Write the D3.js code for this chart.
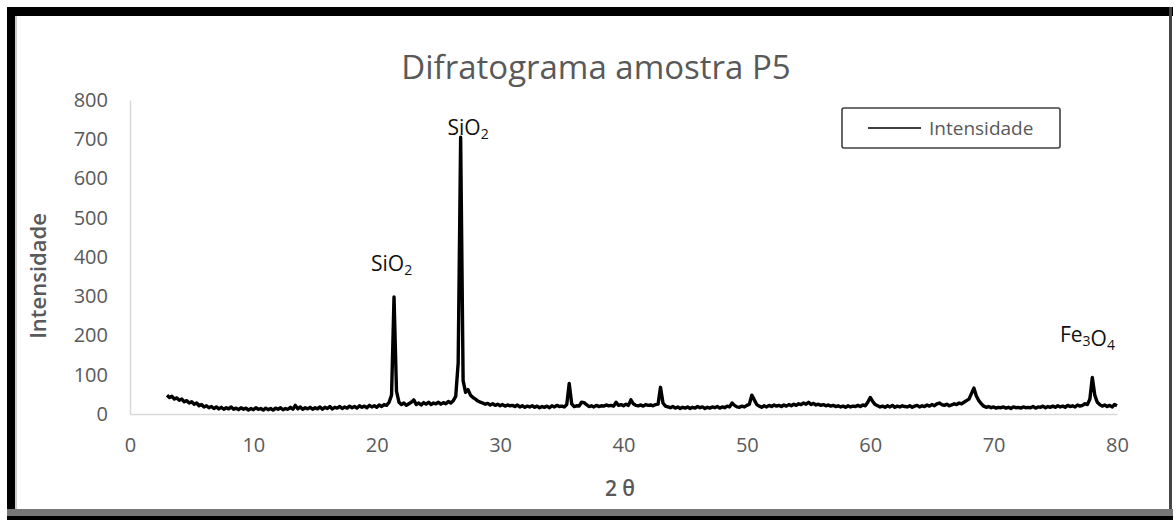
<!DOCTYPE html>
<html>
<head>
<meta charset="utf-8">
<script src="https://cdn.jsdelivr.net/npm/d3@7"></script>
<style>
  html, body { margin: 0; padding: 0; background: #fff; }
  svg { display: block; font-family: "Open Sans", Lato, sans-serif; }
</style>
</head>
<body>
<svg id="chart" width="1176" height="520"></svg>
<script>
// 2θ grid of the scan (start, step) and the intensity read at each step
const thetaStart = 3;
const thetaStep = 0.2;
const intensity = [
  48, 42, 45, 38, 41, 35, 38, 31, 34, 28,
  31, 25, 28, 21, 24, 18, 21, 16, 19, 14,
  18, 13, 17, 12, 16, 13, 18, 12, 15, 11,
  16, 12, 15, 10, 14, 11, 16, 12, 14, 10,
  15, 11, 14, 10, 15, 12, 16, 11, 14, 12,
  17, 12, 22, 13, 18, 12, 16, 13, 17, 12,
  16, 13, 18, 12, 17, 14, 19, 13, 17, 15,
  19, 14, 18, 15, 20, 16, 19, 15, 21, 17,
  20, 16, 22, 18, 21, 17, 23, 19, 24, 22,
  30, 48, 298, 58, 30, 24, 28, 22, 26, 30,
  36, 24, 28, 23, 29, 25, 30, 24, 28, 26,
  30, 25, 29, 26, 32, 28, 34, 45, 130, 705,
  85, 55, 62, 48, 42, 38, 33, 30, 28, 25,
  27, 23, 26, 22, 25, 21, 24, 20, 23, 21,
  22, 19, 23, 18, 21, 17, 20, 18, 21, 17,
  20, 16, 19, 17, 20, 16, 21, 18, 22, 19,
  20, 18, 24, 78, 26, 19, 21, 20, 30, 29,
  24, 19, 21, 18, 22, 19, 21, 20, 23, 21,
  22, 20, 30, 22, 24, 21, 25, 22, 36, 26,
  22, 21, 23, 20, 24, 22, 23, 21, 24, 25,
  68, 28, 20, 18, 16, 19, 15, 18, 14, 17,
  15, 18, 14, 17, 15, 19, 16, 18, 14, 17,
  15, 18, 16, 19, 15, 18, 16, 20, 18, 28,
  22, 18, 17, 20, 18, 22, 25, 48, 36, 24,
  20, 17, 21, 18, 22, 19, 23, 20, 22, 19,
  23, 20, 24, 21, 25, 22, 26, 24, 28, 25,
  30, 24, 27, 23, 25, 22, 24, 21, 23, 20,
  22, 19, 21, 18, 20, 17, 21, 18, 20, 19,
  22, 19, 23, 21, 30, 42, 32, 24, 21, 18,
  20, 17, 21, 18, 22, 17, 20, 18, 21, 19,
  18, 21, 17, 20, 22, 18, 21, 19, 23, 20,
  24, 21, 26, 28, 24, 22, 25, 21, 23, 26,
  24, 28, 26, 30, 34, 38, 52, 66, 46, 34,
  26, 20, 17, 19, 16, 18, 15, 17, 16, 18,
  15, 17, 14, 18, 16, 17, 15, 18, 16, 17,
  16, 19, 15, 18, 17, 20, 16, 19, 17, 20,
  17, 21, 18, 20, 17, 22, 19, 21, 18, 23,
  20, 22, 26, 24, 38, 93, 48, 30, 24, 20,
  23, 19, 22, 18, 24, 21
];

const xTicks = [0, 10, 20, 30, 40, 50, 60, 70, 80];
const yTicks = [0, 100, 200, 300, 400, 500, 600, 700, 800];

// phase labels: [formula parts, 2θ, intensity] where parts = [text, subscript]
const phaseLabels = [
  [[['Si', ''], ['O', '2']], 27.4, 711],
  [[['Si', ''], ['O', '2']], 21.2, 364],
  [[['Fe', '3'], ['O', '4']], 77.6, 183]
];

const chartTitle = 'Difratograma amostra P5';
const xTitle = '2 θ';
const yTitle = 'Intensidade';
const seriesName = 'Intensidade';

const svg = d3.select('#chart');
const grey = '#595959';

const x = d3.scaleLinear().domain([0, 80]).range([130, 1117]);
const y = d3.scaleLinear().domain([0, 800]).range([414, 100]);

const points = intensity.map((v, i) => [thetaStart + i * thetaStep, v]);

// frame around the picture
svg.append('rect').attr('x', 7).attr('y', 7).attr('width', 8).attr('height', 513).attr('fill', '#000');
svg.append('rect').attr('x', 7).attr('y', 7).attr('width', 1166).attr('height', 9).attr('fill', '#000');
svg.append('rect').attr('x', 1169).attr('y', 7).attr('width', 3).attr('height', 513).attr('fill', '#444');
svg.append('rect').attr('x', 7).attr('y', 509).attr('width', 1166).attr('height', 8).attr('fill', '#777');
svg.append('rect').attr('x', 7).attr('y', 516).attr('width', 1166).attr('height', 4).attr('fill', '#000');
svg.append('line').attr('x1', 16).attr('x2', 16).attr('y1', 16).attr('y2', 509)
  .attr('stroke', '#999').attr('stroke-width', 1);

// axes
const xAxis = svg.append('g').attr('transform', `translate(0,${y(0)})`)
  .call(d3.axisBottom(x).tickValues(xTicks).tickSize(0).tickPadding(24));
const yAxis = svg.append('g').attr('transform', `translate(${x(0)},0)`)
  .call(d3.axisLeft(y).tickValues(yTicks).tickSize(0).tickPadding(22));

[xAxis, yAxis].forEach((g) => {
  g.select('.domain').attr('stroke', '#d9d9d9').attr('stroke-width', 1.5);
  g.selectAll('text').attr('fill', grey).attr('font-size', 20)
    .attr('font-family', '"Open Sans", sans-serif');
});

// the scan
svg.append('path')
  .datum(points)
  .attr('fill', 'none')
  .attr('stroke', '#000')
  .attr('stroke-width', 3.4)
  .attr('stroke-linejoin', 'round')
  .attr('d', d3.line().x((d) => x(d[0])).y((d) => y(d[1])));

// titles
svg.append('text').attr('x', 596).attr('y', 79).attr('text-anchor', 'middle')
  .attr('font-size', 33).attr('fill', grey).text(chartTitle);

svg.append('text').attr('x', 620).attr('y', 496).attr('text-anchor', 'middle')
  .attr('font-size', 21).attr('font-weight', 600).attr('fill', grey).text(xTitle);

svg.append('text').attr('transform', 'translate(46,276) rotate(-90)').attr('text-anchor', 'middle')
  .attr('font-size', 22).attr('font-weight', 600).attr('fill', grey).text(yTitle);

// phase labels
phaseLabels.forEach(([parts, t, v]) => {
  const txt = svg.append('text').attr('x', x(t)).attr('y', y(v))
    .attr('text-anchor', 'middle').attr('font-size', 21).attr('fill', '#111');
  parts.forEach(([main, sub]) => {
    txt.append('tspan').text(main);
    if (sub) {
      txt.append('tspan').attr('font-size', 14).attr('dy', 4).text(sub);
      txt.append('tspan').attr('dy', -4).text('');
    }
  });
});

// legend
const legend = svg.append('g');
legend.append('rect').attr('x', 842).attr('y', 108).attr('width', 218).attr('height', 40)
  .attr('rx', 2).attr('fill', '#fff').attr('stroke', '#404040').attr('stroke-width', 1.6);
legend.append('line').attr('x1', 868).attr('x2', 921).attr('y1', 128).attr('y2', 128)
  .attr('stroke', '#404040').attr('stroke-width', 2.2);
legend.append('text').attr('x', 929).attr('y', 135).attr('font-size', 19)
  .attr('fill', grey).text(seriesName);
</script>
</body>
</html>
